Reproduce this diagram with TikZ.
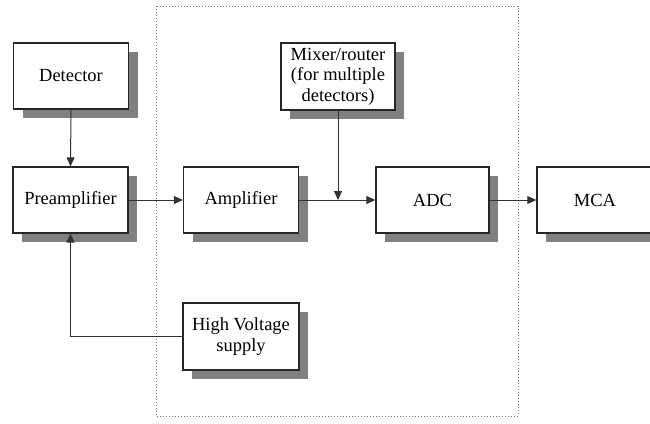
\documentclass[tikz,border=0pt]{standalone}
\usepackage{fontspec}
\setmainfont{Liberation Serif}
\usetikzlibrary{arrows.meta,shadows}
\begin{document}
\begin{tikzpicture}[x=1pt,y=-1pt,
  blk/.style={draw=black!85, line width=1.3pt, fill=white, minimum width=115pt, minimum height=66pt,
    inner sep=1pt, align=center, font=\fontsize{18.5}{20.5}\selectfont,
    drop shadow={shadow xshift=9pt, shadow yshift=-9pt, fill=black!50, opacity=1}},
  wire/.style={draw=black!80, line width=1pt},
  arr/.style={wire, -{Triangle[length=9pt,width=8pt]}}]
\clip (0,0) rectangle (650,423);
\useasboundingbox (0,0) rectangle (650,423);
\draw[black!55, dotted, line width=1pt] (156,6) rectangle (518,416);
\node[blk] (det) at (71,76) {Detector};
\node[blk, minimum width=114pt, minimum height=67pt] (mix) at (338,76.5) {Mixer/router\\(for multiple\\detectors)};
\node[blk] (pre) at (70.5,200) {Preamplifier};
\node[blk] (amp) at (241,200) {Amplifier};
\node[blk, minimum width=113pt] (adc) at (432.5,200) {ADC};
\node[blk, minimum width=116pt] (mca) at (595,200) {MCA};
\node[blk, minimum width=116pt, minimum height=67pt] (hv) at (241,336.5) {High Voltage\\supply};
\coordinate (j) at (mix.south |- amp.east);
\draw[arr] (det.south) -- (pre.north);
\draw[arr] (pre.east) -- (amp.west);
\draw[arr] (amp.east) -- (adc.west);
\draw[arr] (mix.south) -- (j);
\draw[arr] (adc.east) -- (mca.west);
\draw[arr] (hv.west) -| (pre.south);
\end{tikzpicture}
\end{document}
